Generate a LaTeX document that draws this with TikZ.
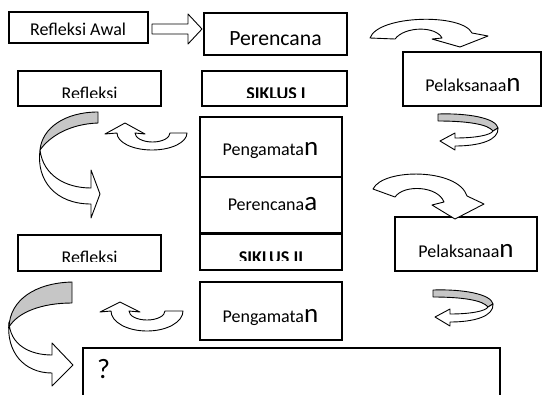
\documentclass[tikz,border=0pt]{standalone}
\usepackage{fontspec}
\setmainfont{Carlito}
\newcommand{\bgl}[1]{{\fontsize{27}{30}\selectfont #1}}
\begin{document}
\begin{tikzpicture}[x=1pt,y=-1pt,
  box/.style={draw, line width=1.3pt, inner sep=0pt},
  arr/.style={draw, line width=0.9pt, fill=white, line join=round},
  garr/.style={draw, line width=0.9pt, fill=gray!45, line join=round},
  txt/.style={anchor=base, inner sep=0pt, font=\fontsize{18}{20}\selectfont},
]
\useasboundingbox (0,0) rectangle (543,394);
\clip (0,0) rectangle (543,394);
% boxes
\node[box, minimum width=139pt, minimum height=31pt] (ra) at (78.5,27.5) {};
\node[box, minimum width=143pt, minimum height=42pt] (p1) at (275.5,34) {};
\node[box, minimum width=143pt, minimum height=35pt] (r1) at (89.5,88.5) {};
\node[box, minimum width=145pt, minimum height=35pt] (s1) at (274.5,88.5) {};
\node[box, minimum width=138pt, minimum height=54pt] (l1) at (472,79) {};
\node[box, minimum width=142pt, minimum height=60pt] (g1) at (271,147) {};
\node[box, minimum width=142pt, minimum height=56pt] (p2) at (271,205) {};
\node[box, minimum width=142pt, minimum height=36pt] (s2) at (271,252) {};
\node[box, minimum width=143pt, minimum height=36pt] (r2) at (89.5,253) {};
\node[box, minimum width=142pt, minimum height=54pt] (l2) at (466,244) {};
\node[box, minimum width=142pt, minimum height=58pt] (g2) at (271,311) {};
\node[box, minimum width=417pt, minimum height=56pt] (q) at (291.5,376) {};
% texts
\node[txt, anchor=base west] (tra) at (30,35) {Refleksi Awal};
\node[txt, font=\fontsize{21.7}{24}\selectfont] (tp1) at (275.5,45) {Perencana};
\node[txt] (tl1) at (473,91) {Pelaksanaa\bgl{n}};
\node[txt] (tg1) at (270.5,155) {Pengamata\bgl{n}};
\node[txt] (tp2) at (272.5,210) {Perencana\bgl{a}};
\node[txt] (tl2) at (466,257) {Pelaksanaa\bgl{n}};
\node[txt] (tg2) at (270.5,322) {Pengamata\bgl{n}};
\node[txt, anchor=base west, font=\fontsize{28}{30}\selectfont] (tq) at (97,378) {?};
\begin{scope}
\clip (18,71) rectangle (161,97);
\node[txt] (tr1) at (89.5,99.5) {Refleksi};
\end{scope}
\begin{scope}
\clip (202,71) rectangle (347,97);
\node[txt, font=\fontsize{18}{20}\selectfont\bfseries] (ts1) at (276,99.5) {SIKLUS I};
\end{scope}
\begin{scope}
\clip (18,235) rectangle (161,261);
\node[txt] (tr2) at (89.5,263.5) {Refleksi};
\end{scope}
\begin{scope}
\clip (200,234) rectangle (342,260.5);
\node[txt, font=\fontsize{18}{20}\selectfont\bfseries] (ts2) at (271,263) {SIKLUS II};
\end{scope}
% arrows
\draw[arr] (152,24) -- (188,24) -- (188,14) -- (202,29) -- (188,44) -- (188,34) -- (152,34) -- cycle;
\draw[arr] (370,38) .. controls (378,15) and (462,13) .. (472,33) -- (488,36) -- (460,47) -- (432,39) -- (442,38) .. controls (436,26) and (405,26) .. (395,39) -- cycle;
\draw[arr] (373,189) .. controls (383,168) and (458,168) .. (467,196) -- (484,204) -- (455,219) -- (432,205) -- (444,202) .. controls (438,186) and (404,184) .. (395,197) -- cycle;
\foreach \dx/\dy in {0/0,-5/176}{
\begin{scope}[shift={(\dx,\dy)}]
\draw[garr] (438,114) .. controls (468,113) and (496,118) .. (498,128) -- (493,131) .. controls (488,124) and (466,121) .. (438,121) -- cycle;
\draw[arr] (498,128) .. controls (499,140) and (480,146) .. (455,146) -- (455,150) -- (440,141) -- (455,133) -- (455,138) .. controls (476,138) and (491,135) .. (493,131) -- cycle;
\end{scope}}
% small U arrows
\draw[arr] (187,133) arc[start angle=0, end angle=180, x radius=35, y radius=17] -- (105,134) -- (125,123) -- (145,134) -- (135,133) arc[start angle=180, end angle=0, x radius=17.5, y radius=9] -- cycle;
\draw[arr] (183,311) arc[start angle=0, end angle=180, x radius=36, y radius=20] -- (100,312) -- (120,302) -- (140,312) -- (129,311) arc[start angle=180, end angle=0, x radius=18, y radius=9] -- cycle;
% big C arrows
\draw[arr] (40,150) .. controls (43,175) and (65,188) .. (91,188) -- (91,170) -- (100,194) -- (91,218) -- (91,204) .. controls (55,204) and (36,180) .. (40,150) -- cycle;
\draw[garr] (98,112) .. controls (65,112) and (42,128) .. (40,150) .. controls (50,136) and (70,124) .. (98,123) -- cycle;
\draw[arr] (9,322) .. controls (10,345) and (30,355) .. (52,355) -- (52,343) -- (73,365) -- (52,386) -- (52,373) .. controls (24,373) and (6,352) .. (9,322) -- cycle;
\draw[garr] (72,282) .. controls (35,283) and (10,300) .. (9,327) .. controls (18,312) and (42,303) .. (72,303) -- cycle;
\end{tikzpicture}
\end{document}
